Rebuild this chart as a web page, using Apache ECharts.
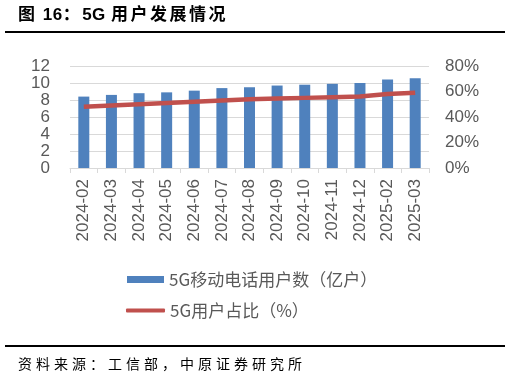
<!DOCTYPE html>
<html>
<head>
<meta charset="utf-8">
<script src="https://cdn.jsdelivr.net/npm/echarts@6/dist/echarts.min.js"></script>
<style>
  html, body { margin: 0; padding: 0; background: #fff; }
  #chart { width: 510px; height: 378px; }
</style>
</head>
<body>
<div id="chart"></div>
<script>
const months = ['2024-02', '2024-03', '2024-04', '2024-05', '2024-06', '2024-07', '2024-08',
  '2024-09', '2024-10', '2024-11', '2024-12', '2025-02', '2025-03']
// 5G移动电话用户数（亿户）
const users = [8.4, 8.6, 8.8, 8.9, 9.1, 9.4, 9.5, 9.7, 9.8, 9.9, 10.0, 10.4, 10.55]
// 5G用户占比（%）
const share = [48, 49, 50, 51, 52, 53, 54, 54.5, 55, 55.5, 56, 58, 59]

const chart = echarts.init(document.getElementById('chart'))
const cjk = '"Noto Sans CJK SC", sans-serif'
const gray = '#595959'

// text with letter spacing (only after CJK chars), built char by char
const measure = document.createElement('canvas').getContext('2d')
function spacedText(str, x, y, font, spacing, fill) {
  measure.font = font
  const children = []
  let cx = x
  for (const ch of str) {
    children.push({ type: 'text', x: cx, y: y, style: { text: ch, font: font, fill: fill } })
    cx += measure.measureText(ch).width + (ch.charCodeAt(0) > 255 ? spacing : 0.5)
  }
  return { type: 'group', children: children }
}

chart.setOption({
  animation: false,
  textStyle: { fontFamily: 'Arial, "Liberation Sans", ' + cjk },
  graphic: [
    spacedText('图 16：5G 用户发展情况', 18, 7, 'bold 17px "Liberation Sans", ' + cjk, 2.5, '#000'),
    { type: 'rect', shape: { x: 5, y: 31, width: 500, height: 2 }, style: { fill: '#000' } },
    { type: 'rect', shape: { x: 5, y: 345, width: 500, height: 2 }, style: { fill: '#000' } },
    spacedText('资料来源：工信部，中原证券研究所', 18, 357, '14px ' + cjk, 4, '#000')
  ],
  legend: [
    {
      left: 122,
      top: 266,
      itemWidth: 37,
      itemHeight: 7,
      textStyle: { fontSize: 17, color: gray, fontFamily: cjk },
      data: [{ name: '5G移动电话用户数（亿户）', icon: 'rect' }]
    },
    {
      left: 121,
      top: 297,
      itemWidth: 39,
      itemHeight: 4,
      textStyle: { fontSize: 17, color: gray, fontFamily: cjk },
      data: [{ name: '5G用户占比（%）', icon: 'roundRect' }]
    }
  ],
  grid: { left: 70, right: 81, top: 66, bottom: 210 },
  xAxis: {
    type: 'category',
    data: months,
    axisLine: { lineStyle: { color: '#d9d9d9' } },
    axisTick: { show: true, length: 5, lineStyle: { color: '#d9d9d9' } },
    axisLabel: { rotate: 90, fontSize: 17, color: gray, margin: 11 }
  },
  yAxis: [
    {
      type: 'value', min: 0, max: 12, interval: 2,
      axisLabel: { fontSize: 17, color: gray, margin: 20 },
      splitLine: { lineStyle: { color: '#d9d9d9' } }
    },
    {
      type: 'value', min: 0, max: 80, interval: 20,
      axisLabel: { fontSize: 17, color: gray, margin: 16, formatter: '{value}%' },
      splitLine: { show: false }
    }
  ],
  series: [
    {
      name: '5G移动电话用户数（亿户）',
      type: 'bar',
      data: users,
      barWidth: 11,
      itemStyle: { color: '#4f81bd' }
    },
    {
      name: '5G用户占比（%）',
      type: 'line',
      yAxisIndex: 1,
      data: share,
      symbol: 'none',
      lineStyle: { color: '#c0504d', width: 4.5 },
      itemStyle: { color: '#c0504d' }
    }
  ]
})
</script>
</body>
</html>
